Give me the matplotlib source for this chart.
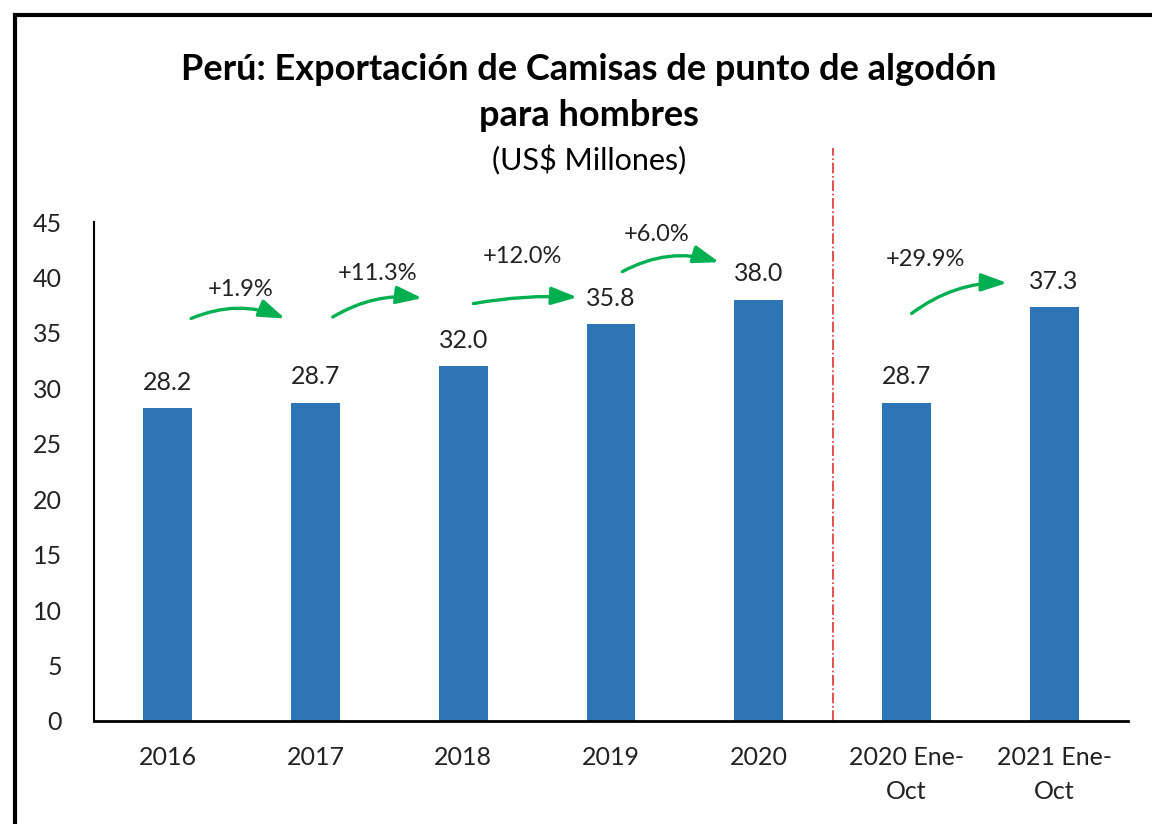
import matplotlib.pyplot as plt
from matplotlib.patches import FancyArrowPatch, Rectangle

# Datos del gráfico
categorias = ['2016', '2017', '2018', '2019', '2020', '2020 Ene-\nOct', '2021 Ene-\nOct']
valores = [28.2, 28.7, 32.0, 35.8, 38.0, 28.7, 37.3]
variaciones = ['+1.9%', '+11.3%', '+12.0%', '+6.0%', '+29.9%']

# Posición de las flechas (x0, y0, x1, y1, curvatura) y de sus etiquetas (x, y)
flechas = [
    (0.14, 36.2, 0.81, 36.2, -0.22),
    (1.10, 36.3, 1.74, 38.1, -0.18),
    (2.05, 37.6, 2.79, 38.2, -0.06),
    (3.06, 40.4, 3.75, 41.3, -0.22),
    (5.02, 36.6, 5.70, 39.5, -0.18),
]
etiquetas_pos = [(0.49, 38.9), (1.42, 40.4), (2.40, 41.9), (3.31, 43.9), (5.13, 41.6)]

plt.rcParams['font.family'] = ['Lato', 'DejaVu Sans']

fig = plt.figure(figsize=(11.52, 8.24), dpi=100)
ax = fig.add_axes([94 / 1152, 1 - 721 / 824, (1128 - 94) / 1152, (721 - 222) / 824])

x = list(range(len(categorias)))
ax.bar(x, valores, width=0.33, color='#2E75B6', zorder=2)

for xi, v in zip(x, valores):
    ax.text(xi, v + 1.3, f'{v:.1f}', ha='center', va='bottom', fontsize=18, color='#222222')

# Flechas de variación
for (x0, y0, x1, y1, rad), (tx, ty), txt in zip(flechas, etiquetas_pos, variaciones):
    arr = FancyArrowPatch((x0, y0), (x1, y1), connectionstyle=f'arc3,rad={rad}',
                          arrowstyle='-|>,head_length=13,head_width=4.5',
                          color='#00B050', lw=2.4, mutation_scale=1.2, zorder=3)
    ax.add_patch(arr)
    ax.text(tx, ty, txt, ha='center', va='center', fontsize=17, color='#222222')

# Línea divisoria
ax.plot([4.5, 4.5], [0, 51.7], color='#E03030', linestyle='-.', lw=1.2,
        clip_on=False, zorder=1)

ax.set_xlim(-0.5, len(categorias) - 0.5)
ax.set_ylim(0, 45)
ax.set_yticks(range(0, 46, 5))
ax.set_xticks(x)
ax.set_xticklabels(categorias, fontsize=18, linespacing=1.6)
ax.tick_params(axis='y', labelsize=18, length=0, pad=23)
ax.tick_params(axis='x', length=0, pad=18)
for lbl in ax.get_xticklabels() + ax.get_yticklabels():
    lbl.set_color('#222222')

ax.spines['top'].set_visible(False)
ax.spines['right'].set_visible(False)
ax.spines['left'].set_linewidth(1.5)
ax.spines['bottom'].set_linewidth(2)

# Títulos
fig.text(589 / 1152, 1 - 70 / 824, 'Perú: Exportación de Camisas de punto de algodón',
         ha='center', va='center', fontsize=26, fontweight='bold')
fig.text(589 / 1152, 1 - 116 / 824, 'para hombres', ha='center', va='center',
         fontsize=26, fontweight='bold')
fig.text(589 / 1152, 1 - 160 / 824, '(US$ Millones)', ha='center', va='center', fontsize=22)

# Marco
fig.patches.append(Rectangle((15 / 1152, -0.1), 1.2, 1 - 15 / 824 + 0.1,
                             transform=fig.transFigure, fill=False,
                             edgecolor='black', lw=3))

fig.savefig('out.png', dpi=100)
